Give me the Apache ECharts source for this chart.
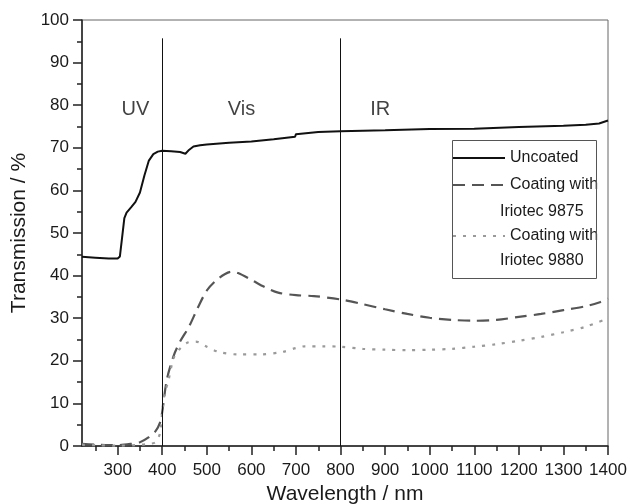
<!DOCTYPE html>
<html>
<head>
<meta charset="utf-8">
<script src="https://cdn.jsdelivr.net/npm/echarts@6/dist/echarts.min.js"></script>
<style>
  html, body { margin: 0; padding: 0; background: #fff; }
  #chart { width: 630px; height: 504px; }
</style>
</head>
<body>
<div id="chart"></div>
<script>
// uncoated glass
const uncoatedWl = [220, 250, 280, 300, 305, 310, 315, 320, 330, 340, 350, 360, 370, 380, 390, 400, 420, 440, 452, 460, 470, 485, 500, 550, 600, 650, 698, 700, 702, 750, 800, 900, 1000, 1100, 1200, 1300, 1350, 1380, 1400]
const uncoatedT = [44.4, 44.2, 44.0, 44.0, 44.5, 49, 53.5, 54.8, 56, 57.3, 59.5, 63.5, 67, 68.5, 69.1, 69.3, 69.2, 69.0, 68.6, 69.5, 70.3, 70.6, 70.8, 71.2, 71.5, 72.0, 72.6, 73.2, 73.4, 73.7, 73.9, 74.1, 74.4, 74.5, 74.9, 75.2, 75.4, 75.7, 76.4]

// Iriotec 9875
const c9875Wl = [220, 250, 280, 300, 330, 350, 370, 385, 395, 400, 410, 425, 440, 460, 480, 500, 520, 540, 555, 570, 600, 630, 660, 700, 740, 800, 850, 900, 950, 1000, 1050, 1100, 1150, 1200, 1250, 1300, 1350, 1380, 1400]
const c9875T = [0.5, 0.3, 0.2, 0.2, 0.5, 0.9, 2.1, 3.5, 5.5, 8, 15.4, 21, 24.5, 28, 32.5, 36.5, 38.8, 40.3, 40.9, 40.6, 39, 37.3, 36.0, 35.4, 35.2, 34.4, 33.3, 32.1, 31, 30.1, 29.6, 29.4, 29.6, 30.3, 31.0, 31.9, 32.8, 33.7, 34.6]

// Iriotec 9880
const c9880Wl = [220, 250, 300, 340, 370, 385, 395, 401, 406, 414, 425, 437, 455, 475, 500, 526, 570, 620, 670, 700, 720, 760, 800, 850, 900, 950, 1000, 1050, 1100, 1150, 1200, 1250, 1300, 1350, 1400]
const c9880T = [0.3, 0.2, 0.1, 0.2, 0.5, 0.9, 3.0, 9.2, 12.5, 15.4, 20.5, 22.5, 24.2, 24.5, 23.3, 22.1, 21.5, 21.5, 22.1, 23.0, 23.4, 23.4, 23.3, 22.8, 22.6, 22.5, 22.6, 22.8, 23.3, 23.9, 24.7, 25.6, 26.7, 28.0, 30.0]

const xMajorTicks = [300, 400, 500, 600, 700, 800, 900, 1000, 1100, 1200, 1300, 1400]
const xMinorTicks = [250, 350, 450, 550, 650, 750, 850, 950, 1050, 1150, 1250, 1350]

const regionNames = ['UV', 'Vis', 'IR']
const regionX = [340, 578, 889]
const regionY = 79
const boundaries = [400, 800]

const seriesNames = ['Uncoated', 'Coating with Iriotec 9875', 'Coating with Iriotec 9880']

const zip = (xs, ys) => xs.map((x, i) => [x, ys[i]])

const font = 'Liberation Sans, Arial, sans-serif'
const chart = echarts.init(document.getElementById('chart'))

function legendFor(name, top) {
    return {
        data: [name],
        left: 452,
        top: top,
        padding: 0,
        itemWidth: 52,
        itemHeight: 14,
        itemGap: 5,
        itemStyle: { opacity: 0 },
        formatter: n => n.replace(/ Iriotec.*/, ''),
        textStyle: { fontFamily: font, fontSize: 16, color: '#1a1a1a', lineHeight: 18 }
    }
}

const option = {
    animation: false,
    textStyle: { fontFamily: font },
    grid: {
        left: 82, right: 22, top: 20, bottom: 58,
        outerBoundsMode: 'none',
        show: true, borderColor: '#666', borderWidth: 1
    },
    legend: [
        legendFor(seriesNames[0], 149),
        legendFor(seriesNames[1], 176),
        legendFor(seriesNames[2], 227)
    ],
    graphic: [
        { type: 'rect', shape: { x: 452.5, y: 140.5, width: 144, height: 138 },
          style: { fill: 'none', stroke: '#555', lineWidth: 1 }, z: 10 },
        { type: 'text', x: 500, y: 212, style: { text: 'Iriotec 9875', fontFamily: font, fontSize: 16, fill: '#1a1a1a', verticalAlign: 'middle' }, z: 10 },
        { type: 'text', x: 500, y: 261, style: { text: 'Iriotec 9880', fontFamily: font, fontSize: 16, fill: '#1a1a1a', verticalAlign: 'middle' }, z: 10 }
    ],
    xAxis: [
        {
            type: 'value', min: 220, max: 1400,
            name: 'Wavelength / nm', nameLocation: 'middle', nameGap: 38,
            nameTextStyle: { fontFamily: font, fontSize: 21, color: '#1a1a1a' },
            axisLine: { onZero: false, lineStyle: { color: '#222', width: 1.5 } },
            axisTick: { customValues: xMajorTicks, length: 9, lineStyle: { color: '#222', width: 1.5 } },
            axisLabel: { customValues: xMajorTicks, fontSize: 17, color: '#1a1a1a', margin: 16, formatter: v => String(v) },
            splitLine: { show: false }
        },
        {
            type: 'value', min: 220, max: 1400, position: 'bottom',
            axisLine: { show: false, onZero: false },
            axisTick: { customValues: xMinorTicks, length: 5, lineStyle: { color: '#222', width: 1.5 } },
            axisLabel: { show: false },
            splitLine: { show: false }
        }
    ],
    yAxis: {
        type: 'value', min: 0, max: 100, interval: 10,
        name: 'Transmission / %', nameLocation: 'middle', nameGap: 52,
        nameTextStyle: { fontFamily: font, fontSize: 21, color: '#1a1a1a' },
        axisLine: { show: true, lineStyle: { color: '#222', width: 1.5 } },
        axisTick: { show: true, length: 9, lineStyle: { color: '#222', width: 1.5 } },
        minorTick: { show: true, splitNumber: 2, length: 5, lineStyle: { color: '#222', width: 1.5 } },
        axisLabel: { fontSize: 17, color: '#1a1a1a', margin: 13 },
        splitLine: { show: false }
    },
    series: [
        {
            name: seriesNames[0], type: 'line', symbol: 'none',
            data: zip(uncoatedWl, uncoatedT),
            lineStyle: { color: '#111', width: 2 },
            itemStyle: { color: '#111' },
            markLine: {
                silent: true, symbol: 'none', label: { show: false },
                lineStyle: { color: '#111', width: 1, type: 'solid' },
                data: boundaries.map(b => [{ coord: [b, 0] }, { coord: [b, 95.7] }])
            }
        },
        {
            name: seriesNames[1], type: 'line', symbol: 'none', smooth: 0.3,
            data: zip(c9875Wl, c9875T),
            lineStyle: { color: '#555', width: 2.2, type: [12, 7] },
            itemStyle: { color: '#555' }
        },
        {
            name: seriesNames[2], type: 'line', symbol: 'none', smooth: 0.3,
            data: zip(c9880Wl, c9880T),
            lineStyle: { color: '#9a9a9a', width: 2.2, type: [3, 7] },
            itemStyle: { color: '#9a9a9a' }
        },
        {
            name: 'regions', type: 'scatter', symbolSize: 0, silent: true,
            data: regionNames.map((n, i) => [regionX[i], regionY, n]),
            label: {
                show: true, position: 'inside', formatter: p => p.value[2],
                fontFamily: font, fontSize: 20, color: '#111'
            }
        }
    ]
}
chart.setOption(option)
</script>
</body>
</html>
